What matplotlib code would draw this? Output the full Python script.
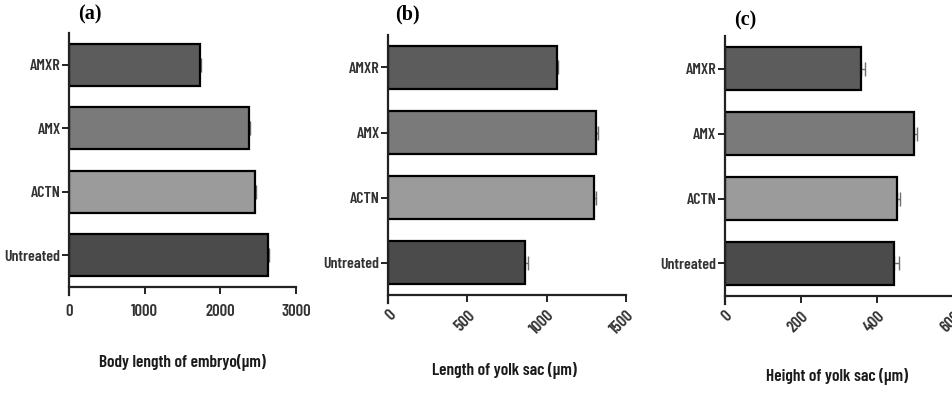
import matplotlib
matplotlib.use('Agg')
import matplotlib.pyplot as plt
import numpy as np

plt.rcParams['font.family'] = ['Barlow Condensed', 'Liberation Sans', 'DejaVu Sans']

groups = ['Untreated', 'ACTN', 'AMX', 'AMXR']
bar_colors = ['#4b4b4b', '#9b9b9b', '#7a7a7a', '#5c5c5c']

# (a) body length of embryo
body_len = [2625, 2455, 2375, 1730]
body_err = [15, 15, 15, 15]
# (b) length of yolk sac
yolk_len = [865, 1300, 1310, 1065]
yolk_len_err = [20, 8, 12, 6]
# (c) height of yolk sac
yolk_h = [445, 451, 495, 356]
yolk_h_err = [13, 8, 9, 13]

panels = [
    ('(a)', body_len, body_err, 'Body length of embryo(\u03bcm)', [0, 1000, 2000, 3000], 0),
    ('(b)', yolk_len, yolk_len_err, 'Length of yolk sac (\u03bcm)', [0, 500, 1000, 1500], 45),
    ('(c)', yolk_h, yolk_h_err, 'Height of yolk sac (\u03bcm)', [0, 200, 400, 600], 45),
]
boxes = [
    [0.0725, 0.270, 0.2385, 0.646],
    [0.4076, 0.249, 0.2500, 0.662],
    [0.7612, 0.247, 0.2405, 0.661],
]
label_xy = [(0.082, 0.962), (0.415, 0.962), (0.771, 0.949)]
xlabel_y = [-0.299, -0.288, -0.312]
xlabel_x = [0.5, 0.49, 0.49]

fig = plt.figure(figsize=(9.52, 3.93), dpi=100)

for k in range(3):
    tag, vals, errs, xlab, ticks, rot = panels[k]
    ax = fig.add_axes(boxes[k])
    y = np.arange(len(groups))
    ax.barh(y, vals, height=0.66, color=bar_colors, edgecolor='black', linewidth=1.6, zorder=2)
    ax.errorbar(vals, y, xerr=[np.zeros(len(errs)), errs], fmt='none', ecolor='#6e6e6e',
                elinewidth=1.0, capsize=5, capthick=1.0, zorder=1)
    ax.set_ylim(-0.5, 3.5)
    ax.set_xlim(ticks[0], ticks[-1])
    ax.set_xticks(ticks)
    ax.set_yticks(y)
    ax.set_yticklabels(groups)
    for s in ['top', 'right']:
        ax.spines[s].set_visible(False)
    for s in ['left', 'bottom']:
        ax.spines[s].set_linewidth(1.6)
        ax.spines[s].set_color('#222222')
    ax.spines['left'].set_bounds(-0.62, 3.5)
    ax.tick_params(axis='both', length=5, width=1.4, color='#222222')
    ax.tick_params(axis='y', pad=1, labelsize=11.5)
    ax.tick_params(axis='x', labelsize=12)
    if rot:
        for t in ax.get_xticklabels():
            t.set_rotation(rot)
            t.set_ha('right')
            t.set_va('top')
            t.set_rotation_mode('anchor')
        ax.tick_params(axis='x', pad=4)
    else:
        ax.tick_params(axis='x', pad=7)
    for t in ax.get_xticklabels() + ax.get_yticklabels():
        t.set_fontweight(600)
        t.set_color('#333333')
    ax.set_xlabel(xlab, fontsize=12.5, fontweight=600, color='#1a1a1a', va='center')
    ax.xaxis.set_label_coords(xlabel_x[k], xlabel_y[k])
    fig.text(label_xy[k][0], label_xy[k][1], tag, fontsize=14.5, fontweight='bold',
             family='Liberation Serif', ha='left', va='center')

fig.savefig('out.png', dpi=100)
